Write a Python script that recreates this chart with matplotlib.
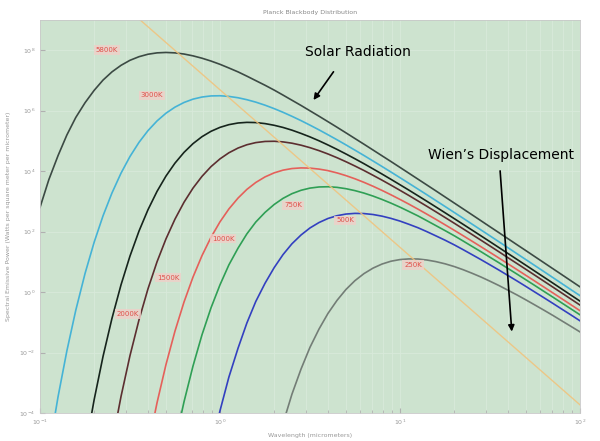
"""
Planck blackbody distribution chart.

Log-log plot of spectral emissive power against wavelength for eight
temperatures, with the Wien's displacement line and two callouts.
"""

import matplotlib
matplotlib.use("Agg")
import matplotlib.pyplot as plt
from matplotlib.ticker import NullLocator

# Sample wavelengths (micrometers), shared by every curve
WAVELENGTH_UM = [0.1, 0.112, 0.126, 0.141, 0.158, 0.178, 0.2, 0.224, 0.251, 0.282,
                 0.316, 0.355, 0.398, 0.447, 0.501, 0.562, 0.631, 0.708, 0.794, 0.891,
                 1.0, 1.12, 1.26, 1.41, 1.58, 1.78, 2.0, 2.24, 2.51, 2.82,
                 3.16, 3.55, 3.98, 4.47, 5.01, 5.62, 6.31, 7.08, 7.94, 8.91,
                 10, 11.2, 12.6, 14.1, 15.8, 17.8, 20, 22.4, 25.1, 28.2,
                 31.6, 35.5, 39.8, 44.7, 50.1, 56.2, 63.1, 70.8, 79.4, 89.1, 100]

# Emissive power (W/m^2/um); each list covers the last len(list) wavelengths
POWER_5800 = [630, 5.26e3, 3.28e4, 1.57e5, 5.96e5, 1.84e6, 4.72e6, 1.03e7, 1.92e7, 3.17e7,
              4.64e7, 6.12e7, 7.37e7, 8.18e7, 8.44e7, 8.18e7, 7.49e7, 6.52e7, 5.45e7, 4.39e7,
              3.42e7, 2.59e7, 1.92e7, 1.39e7, 9.89e6, 6.93e6, 4.8e6, 3.28e6, 2.22e6, 1.49e6,
              9.93e5, 6.56e5, 4.33e5, 2.83e5, 1.85e5, 1.20e5, 7.77e4, 5.01e4, 3.23e4, 2.08e4,
              1.33e4, 8.56e3, 5.41e3, 3.49e3, 2.24e3, 1.40e3, 885, 567, 362, 228,
              145, 91.7, 58.3, 36.7, 23.4, 14.8, 9.33, 5.9, 3.74, 2.36, 1.49]
POWER_3000 = [5.55e-8, 5.37e-6, 3.47e-4, 0.0113, 0.249, 4.16, 45, 334, 1.89e3, 8.62e3,
              3.04e4, 9.01e4, 2.19e5, 4.59e5, 8.25e5, 1.31e6, 1.87e6, 2.41e6, 2.83e6, 3.08e6,
              3.12e6, 2.97e6, 2.68e6, 2.31e6, 1.92e6, 1.52e6, 1.17e6, 8.84e5, 6.52e5, 4.69e5,
              3.33e5, 2.32e5, 1.60e5, 1.09e5, 7.39e4, 4.95e4, 3.29e4, 2.17e4, 1.43e4, 9.34e3,
              6.08e3, 3.97e3, 2.54e3, 1.66e3, 1.07e3, 677, 431, 278, 178, 113,
              72.5, 45.9, 29.3, 18.5, 11.8, 7.49, 4.74, 3, 1.9, 1.2, 0.762]
POWER_2000 = [6.39e-8, 5.87e-6, 2.79e-4, 7.48e-3, 0.134, 1.75, 15.4, 105, 529, 2.15e3,
              6.88e3, 1.84e4, 4.18e4, 8.13e4, 1.38e5, 2.08e5, 2.81e5, 3.45e5, 3.92e5, 4.11e5,
              4.05e5, 3.74e5, 3.29e5, 2.79e5, 2.27e5, 1.77e5, 1.36e5, 1.01e5, 7.35e4, 5.24e4,
              3.70e4, 2.57e4, 1.76e4, 1.19e4, 8.04e3, 5.36e3, 3.55e3, 2.36e3, 1.53e3, 1.01e3,
              659, 420, 270, 175, 113, 72.2, 46.5, 29.5, 18.9, 12,
              7.68, 4.89, 3.1, 1.97, 1.25, 0.792, 0.502]
POWER_1500 = [1.68e-7, 9.51e-6, 3.55e-4, 7.80e-3, 0.122, 1.28, 10.1, 57.4, 258, 936,
              2.75e3, 6.72e3, 1.41e4, 2.55e4, 4.05e4, 5.82e4, 7.47e4, 8.80e4, 9.61e4, 9.74e4,
              9.29e4, 8.41e4, 7.23e4, 5.99e4, 4.77e4, 3.70e4, 2.78e4, 2.05e4, 1.48e4, 1.05e4,
              7.31e3, 5.05e3, 3.44e3, 2.32e3, 1.57e3, 1.03e3, 689, 455, 293, 190,
              124, 80.7, 51.8, 33.5, 21.4, 13.7, 8.76, 5.62, 3.59, 2.28,
              1.45, 0.923, 0.586, 0.372]
POWER_1000 = [7.47e-6, 2.20e-4, 4.00e-3, 0.0508, 0.468, 3.14, 16, 64.7, 211, 560,
              1.29e3, 2.49e3, 4.22e3, 6.47e3, 8.79e3, 1.08e4, 1.22e4, 1.28e4, 1.26e4, 1.17e4,
              1.04e4, 8.74e3, 7.11e3, 5.59e3, 4.26e3, 3.17e3, 2.31e3, 1.65e3, 1.16e3, 812,
              552, 378, 256, 168, 111, 73.6, 48.5, 31.5, 20.6, 13.3,
              8.6, 5.52, 3.56, 2.29, 1.46, 0.933, 0.597, 0.38, 0.242]
POWER_750 = [2.82e-7, 1.02e-5, 2.34e-4, 3.59e-3, 0.0384, 0.299, 1.74, 7.9, 28.5, 84.1,
             207, 434, 790, 1260, 1800, 2330, 2750, 3000, 3050, 2910,
             2630, 2270, 1880, 1500, 1160, 875, 644, 465, 330, 230,
             159, 108, 73.2, 49.1, 32.6, 21.6, 14.2, 9.28, 6.04, 3.92,
             2.54, 1.64, 1.05, 0.676, 0.433, 0.277, 0.177]
POWER_500 = [2.19e-7, 6.32e-6, 1.19e-4, 1.53e-3, 0.014, 0.0946, 0.487, 1.97, 6.45, 17.4,
             39.6, 77.4, 132, 200, 272, 336, 381, 401, 395, 368,
             325, 274, 223, 175, 134, 99.8, 72.7, 52, 36.6, 25.4,
             17.4, 11.8, 7.97, 5.32, 3.53, 2.33, 1.53, 0.996, 0.648, 0.42,
             0.271, 0.175, 0.112]
POWER_250 = [1.85e-7, 3.52e-6, 4.55e-5, 4.19e-4, 2.85e-3, 0.0148, 0.0601, 0.197, 0.534, 1.22,
             2.39, 4.09, 6.2, 8.45, 10.5, 11.9, 12.5, 12.4, 11.5, 10.2,
             8.61, 7, 5.51, 4.21, 3.14, 2.29, 1.64, 1.15, 0.801, 0.55,
             0.373, 0.251, 0.168, 0.111, 0.0733, 0.0481]

TEMPS = [5800, 3000, 2000, 1500, 1000, 750, 500, 250]
CURVES = [POWER_5800, POWER_3000, POWER_2000, POWER_1500,
          POWER_1000, POWER_750, POWER_500, POWER_250]

# Wien's displacement line end points
WIEN_WAVELENGTH = [0.3, 100]
WIEN_POWER = [2.6e9, 1.86e-4]

# Styling
COLORS = ['#3c4a44', '#45b3d6', '#16241c', '#5c2e30', '#e5605a', '#2f9f55', '#3340c0', '#737d76']
LABEL_POS = [(0.236, 1e8), (0.419, 3.2e6), (0.308, 0.19), (0.514, 3.0),
             (1.04, 59), (2.54, 740), (4.95, 234), (11.8, 7.9)]


def main():
    fig = plt.figure(figsize=(6, 4.41), dpi=100)
    ax = fig.add_axes([40 / 600, 28 / 441, 540 / 600, 393 / 441])
    ax.set_facecolor('#cde3cf')

    # Blackbody curves + Wien line
    for vals, c in zip(CURVES, COLORS):
        ax.plot(WAVELENGTH_UM[-len(vals):], vals, color=c, lw=1.2)
    ax.plot(WIEN_WAVELENGTH, WIEN_POWER, color='#f2c27a', lw=1.0, alpha=0.85)

    # Axes
    ax.set_xscale('log')
    ax.set_yscale('log')
    ax.set_xlim(0.1, 100)
    ax.set_ylim(1e-4, 1e9)
    ax.set_yticks([10.0 ** p for p in range(-4, 9, 2)])
    ax.yaxis.set_minor_locator(NullLocator())
    ax.grid(True, which='both', axis='x', color='#d8eada', lw=0.6)
    ax.grid(True, which='major', axis='y', color='#d8eada', lw=0.6)
    ax.set_axisbelow(True)
    ax.tick_params(which='both', direction='in', labelsize=4.5,
                   colors='#b0b0b0', labelcolor='#999999')
    for s in ax.spines.values():
        s.set_color('#c8c8c8')
        s.set_linewidth(0.6)

    ax.set_title('Planck Blackbody Distribution', fontsize=4.5, color='#888888', pad=4)
    ax.set_xlabel('Wavelength (micrometers)', fontsize=4.5, color='#999999', labelpad=4)
    ax.set_ylabel('Spectral Emissive Power (Watts per square meter per micrometer)',
                  fontsize=4.5, color='#999999', labelpad=6)

    # Temperature tags
    for T, (x, y) in zip(TEMPS, LABEL_POS):
        ax.text(x, y, f'{T}K', fontsize=5, color='#e0504a', ha='center', va='center',
                bbox=dict(boxstyle='square,pad=0.25', fc='#f0cfc8', ec='none', alpha=0.8))

    # Callouts
    ax.text(5.84, 8.5e7, 'Solar Radiation', fontsize=10, ha='center', va='center')
    ax.annotate('', xy=(3.24, 1.9e6), xytext=(4.36, 2.3e7),
                arrowprops=dict(arrowstyle='-|>', color='black', lw=1.2, mutation_scale=9))
    ax.text(36.4, 3.4e4, 'Wien\u2019s Displacement', fontsize=10, ha='center', va='center')
    ax.annotate('', xy=(41.9, 0.04), xytext=(35.9, 1.26e4),
                arrowprops=dict(arrowstyle='-|>', color='black', lw=1.2, mutation_scale=9))

    fig.savefig('out.png', dpi=100)
    plt.close(fig)


if __name__ == "__main__":
    main()
